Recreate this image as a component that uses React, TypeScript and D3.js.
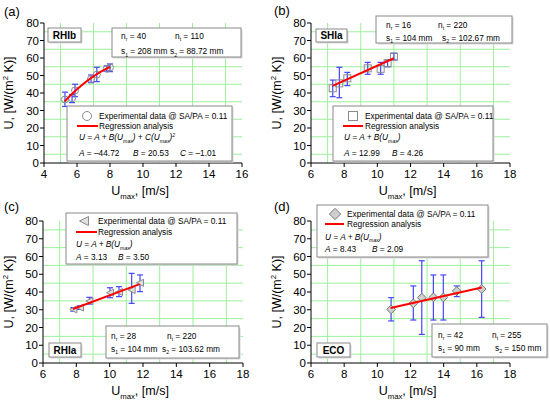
import React from "react";
import * as d3 from "d3";

// ---------- data ----------
const yTicks = [0, 10, 20, 30, 40, 50, 60, 70, 80];
const yGrid = [5, 15, 25, 35, 45, 55, 65, 75];
const xTicksA = [4, 6, 8, 10, 12, 14, 16];
const xGridA = [5, 7, 9, 11, 13, 15];
const xTicksB = [6, 8, 10, 12, 14, 16, 18];
const xGridB = [7, 9, 11, 13, 15, 17];

const aX = [5.27, 5.7, 5.88, 6.85, 7.2, 7.8, 8.0];
const aY = [36.3, 37.0, 41.5, 48.0, 50.5, 53.8, 54.6];
const aLo = [32.3, 34.5, 37.9, 45.9, 46.5, 52.5, 52.2];
const aHi = [40.5, 39.2, 45.0, 50.3, 54.7, 55.5, 56.6];
const aCoef = [-44.72, 20.53, -1.01];
const aFit = [5.25, 8.0];

const bX = [7.31, 7.71, 8.19, 9.42, 10.2, 10.62, 11.0];
const bY = [42.7, 45.5, 48.4, 54.1, 53.8, 57.0, 60.8];
const bLo = [37.9, 37.3, 44.2, 50.7, 50.7, 55.0, 58.9];
const bHi = [47.4, 54.7, 51.8, 57.5, 57.5, 58.9, 62.7];
const bCoef = [12.99, 4.26];
const bFit = [7.3, 11.0];

const cX = [7.82, 8.22, 8.78, 10.02, 10.56, 11.32, 11.82];
const cY = [30.2, 31.2, 34.9, 39.6, 40.0, 41.1, 45.2];
const cLo = [29.2, 30.2, 33.2, 36.8, 37.4, 33.6, 40.2];
const cHi = [31.2, 32.2, 37.0, 42.4, 43.0, 50.5, 49.6];
const cCoef = [3.13, 3.5];
const cFit = [7.8, 11.8];

const dX = [10.83, 12.17, 12.68, 13.38, 13.98, 14.79, 16.29];
const dY = [30.2, 33.6, 36.8, 37.0, 37.0, 40.6, 41.7];
const dLo = [23.7, 24.2, 16.1, 24.2, 24.2, 37.4, 25.7];
const dHi = [36.8, 43.4, 57.6, 49.6, 49.6, 43.4, 57.6];
const dCoef = [8.43, 2.09];
const dFit = [10.8, 16.3];

const panelLetters = ["(a)", "(b)", "(c)", "(d)"];
const tubeNames = ["RHIb", "SHIa", "RHIa", "ECO"];
const nr = ["40", "16", "28", "42"];
const nt = ["110", "220", "220", "255"];
const s1 = ["208 mm", "104 mm", "104 mm", "90 mm"];
const s2 = ["88.72 mm", "102.67 mm", "103.62 mm", "150 mm"];
const legendText = "Experimental data @ SA/PA = 0.11";
const regText = "Regression analysis";

// ---------- styles ----------
const FONT = "'Liberation Sans', Arial, Helvetica, sans-serif";
const GRID = "#9cf09c";
const BLUE = "#4646ff";
const RED = "#ff0000";
const MARK = "#8c8c8c";
const SMALL = 8.3;

type Part = { t: string; s?: "sub" | "sup"; i?: boolean };

function Rich({ x, y, parts, size, anchor = "start", transform }: any) {
  let off = 0;
  const spans = (parts as Part[]).map((p, k) => {
    let target = 0;
    if (p.s === "sub") target = size * 0.32;
    if (p.s === "sup") target = -size * 0.4;
    const dy = target - off;
    off = target;
    return (
      <tspan
        key={k}
        dy={dy}
        fontSize={p.s ? size * 0.62 : size}
        fontStyle={p.i ? "italic" : "normal"}
      >
        {p.t}
      </tspan>
    );
  });
  return (
    <text x={x} y={y} fontSize={size} textAnchor={anchor} fontFamily={FONT} fill="#000" transform={transform}>
      {spans}
    </text>
  );
}

function Box({ x, y, w, h }: any) {
  return (
    <g>
      <rect x={x + 1.5} y={y + 1.5} width={w} height={h} fill="#d8d8d8" />
      <rect x={x} y={y} width={w} height={h} fill="#fff" stroke="#8a8a8a" strokeWidth={1} />
    </g>
  );
}

function Marker({ kind, cx, cy, r = 4 }: any) {
  if (kind === "circle") return <circle cx={cx} cy={cy} r={r} fill="none" stroke={MARK} strokeWidth={1} />;
  if (kind === "square")
    return <rect x={cx - r} y={cy - r} width={2 * r} height={2 * r} fill="none" stroke={MARK} strokeWidth={1} />;
  if (kind === "triangle")
    return (
      <polygon
        points={`${cx - r},${cy} ${cx + r},${cy - r} ${cx + r},${cy + r}`}
        fill="#e0e0e0"
        stroke={MARK}
        strokeWidth={1}
      />
    );
  return (
    <polygon
      points={`${cx},${cy - r * 1.25} ${cx + r * 1.25},${cy} ${cx},${cy + r * 1.25} ${cx - r * 1.25},${cy}`}
      fill="#cfcfcf"
      stroke="#777"
      strokeWidth={1}
    />
  );
}

function Panel({ cfg, idx }: any) {
  const { L, T, W, H, xTicks, xGrid, xs, ys, lo, hi, coef, fit, marker } = cfg;
  const x = d3.scaleLinear().domain([xTicks[0], xTicks[xTicks.length - 1]]).range([L, L + W]);
  const y = d3.scaleLinear().domain([0, 80]).range([T + H, T]);
  const fitX = coef.length === 3 ? d3.range(fit[0], fit[1] + 0.001, 0.05) : fit;
  const f = (v: number) => coef.reduce((s: number, c: number, k: number) => s + c * Math.pow(v, k), 0);
  const line = d3
    .line<number>()
    .x((v) => x(v))
    .y((v) => y(f(v)));
  const lg = cfg.legend;
  const inf = cfg.info;
  const nm = cfg.name;
  return (
    <g>
      {/* grid */}
      {xGrid.map((g: number) => (
        <line key={"gx" + g} x1={x(g)} x2={x(g)} y1={T} y2={T + H} stroke={GRID} strokeWidth={1} />
      ))}
      {yGrid.map((g: number) => (
        <line key={"gy" + g} x1={L} x2={L + W} y1={y(g)} y2={y(g)} stroke={GRID} strokeWidth={1} />
      ))}
      {/* axes */}
      <line x1={L} x2={L} y1={T} y2={T + H} stroke="#000" strokeWidth={1} />
      <line x1={L} x2={L + W} y1={T + H} y2={T + H} stroke="#000" strokeWidth={1} />
      {yTicks.map((t) => (
        <g key={"yt" + t}>
          <line x1={L - 4} x2={L} y1={y(t)} y2={y(t)} stroke="#000" />
          <text x={L - 5} y={y(t) + 4} fontSize={11.5} textAnchor="end" fontFamily={FONT}>
            {t}
          </text>
        </g>
      ))}
      {xTicks.map((t: number) => (
        <g key={"xt" + t}>
          <line x1={x(t)} x2={x(t)} y1={T + H} y2={T + H + 4} stroke="#000" />
          <text x={x(t)} y={T + H + 15} fontSize={11.5} textAnchor="middle" fontFamily={FONT}>
            {t}
          </text>
        </g>
      ))}
      {/* axis titles */}
      <Rich
        x={0}
        y={0}
        size={12.5}
        anchor="middle"
        transform={`translate(${cfg.ytx},${T + H / 2}) rotate(-90)`}
        parts={[{ t: "U, [W/(m" }, { t: "2", s: "sup" }, { t: " K)]" }]}
      />
      <Rich
        x={L + W / 2 - 3}
        y={T + H + 32}
        size={12.5}
        anchor="middle"
        parts={[{ t: "U" }, { t: "max", s: "sub" }, { t: ", [m/s]" }]}
      />
      {/* panel letter */}
      <text x={cfg.px} y={cfg.py} fontSize={13} fontFamily={FONT}>
        {panelLetters[idx]}
      </text>
      {/* error bars */}
      {xs.map((v: number, k: number) => (
        <g key={"e" + k} stroke={BLUE} strokeWidth={1.2}>
          <line x1={x(v)} x2={x(v)} y1={y(lo[k])} y2={y(hi[k])} />
          <line x1={x(v) - 3} x2={x(v) + 3} y1={y(lo[k])} y2={y(lo[k])} />
          <line x1={x(v) - 3} x2={x(v) + 3} y1={y(hi[k])} y2={y(hi[k])} />
        </g>
      ))}
      {xs.map((v: number, k: number) => (
        <Marker key={"m" + k} kind={marker} cx={x(v)} cy={y(ys[k])} r={3.5} />
      ))}
      <path d={line(fitX) || ""} fill="none" stroke={RED} strokeWidth={2} />
      {/* name box */}
      <Box x={nm[0]} y={nm[1]} w={nm[2]} h={nm[3]} />
      <text x={nm[0] + nm[2] / 2} y={nm[1] + nm[3] / 2 + 3.6} fontSize={10} fontWeight="bold" textAnchor="middle" fontFamily={FONT}>
        {tubeNames[idx]}
      </text>
      {/* info box */}
      <Box x={inf[0]} y={inf[1]} w={inf[2]} h={inf[3]} />
      <Rich x={inf[4]} y={inf[6]} size={SMALL} parts={[{ t: "n" }, { t: "r", s: "sub" }, { t: " = " + nr[idx] }]} />
      <Rich x={inf[5]} y={inf[6]} size={SMALL} parts={[{ t: "n" }, { t: "t", s: "sub" }, { t: " = " + nt[idx] }]} />
      <Rich x={inf[4]} y={inf[7]} size={SMALL} parts={[{ t: "s" }, { t: "1", s: "sub" }, { t: " = " + s1[idx] }]} />
      <Rich x={inf[8]} y={inf[7]} size={SMALL} parts={[{ t: "s" }, { t: "2", s: "sub" }, { t: " = " + s2[idx] }]} />
      {/* legend */}
      <Box x={lg.x} y={lg.y} w={lg.w} h={lg.h} />
      <Marker kind={marker} cx={lg.mx} cy={lg.r1} r={4.5} />
      <text x={lg.tx} y={lg.r1 + 3} fontSize={SMALL} fontFamily={FONT}>
        {legendText}
      </text>
      <line x1={lg.l1} x2={lg.l2} y1={lg.r2} y2={lg.r2} stroke={RED} strokeWidth={2} />
      <text x={lg.tx} y={lg.r2 + 3} fontSize={SMALL} fontFamily={FONT}>
        {regText}
      </text>
      {coef.length === 3 ? (
        <Rich
          x={lg.fx}
          y={lg.r3}
          size={SMALL}
          parts={[
            { t: "U = A + B(U", i: true },
            { t: "max", s: "sub", i: true },
            { t: ") + C(U", i: true },
            { t: "max", s: "sub", i: true },
            { t: ")", i: true },
            { t: "2", s: "sup", i: true },
          ]}
        />
      ) : (
        <Rich
          x={lg.fx}
          y={lg.r3}
          size={SMALL}
          parts={[
            { t: "U = A + B(U", i: true },
            { t: "max", s: "sub", i: true },
            { t: ")", i: true },
          ]}
        />
      )}
      {coef.map((c: number, k: number) => (
        <Rich
          key={"c" + k}
          x={lg.cx[k]}
          y={lg.r4}
          size={SMALL}
          parts={[{ t: ["A", "B", "C"][k], i: true }, { t: " = " + (c < 0 ? "\u2013" : "") + Math.abs(c).toFixed(2) }]}
        />
      ))}
    </g>
  );
}

const panels = [
  {
    L: 44, T: 23, W: 198, H: 140, xTicks: xTicksA, xGrid: xGridA,
    xs: aX, ys: aY, lo: aLo, hi: aHi, coef: aCoef, fit: aFit, marker: "circle",
    ytx: 13, px: 4, py: 16,
    name: [48, 28, 33, 14],
    info: [112, 28, 129, 29, 121, 175, 38.5, 54, 170],
    legend: { x: 67, y: 106, w: 165, h: 55, mx: 87, tx: 99, r1: 116, r2: 126, l1: 77, l2: 98, fx: 79, r3: 140, r4: 156, cx: [79, 133, 180] },
  },
  {
    L: 311, T: 23, W: 199, H: 140, xTicks: xTicksB, xGrid: xGridB,
    xs: bX, ys: bY, lo: bLo, hi: bHi, coef: bCoef, fit: bFit, marker: "square",
    ytx: 281, px: 274, py: 15,
    name: [316, 29, 31, 13],
    info: [376, 16, 136, 27, 386, 438, 27.5, 40.5, 442],
    legend: { x: 333, y: 106, w: 160, h: 55, mx: 353, tx: 365, r1: 116, r2: 126, l1: 343, l2: 363, fx: 344, r3: 140, r4: 156, cx: [344, 392] },
  },
  {
    L: 43, T: 221, W: 200, H: 142, xTicks: xTicksB, xGrid: xGridB,
    xs: cX, ys: cY, lo: cLo, hi: cHi, coef: cCoef, fit: cFit, marker: "triangle",
    ytx: 13, px: 4, py: 211,
    name: [49, 343, 32, 14],
    info: [106, 326, 133, 32, 111, 167, 338.5, 351.5, 162],
    legend: { x: 66, y: 213, w: 171, h: 51, mx: 84, tx: 98, r1: 221, r2: 232, l1: 76, l2: 97, fx: 76, r3: 247, r4: 260, cx: [76, 118] },
  },
  {
    L: 311, T: 221, W: 199, H: 142, xTicks: xTicksB, xGrid: xGridB,
    xs: dX, ys: dY, lo: dLo, hi: dHi, coef: dCoef, fit: dFit, marker: "diamond",
    ytx: 281, px: 274, py: 211,
    name: [317, 343, 33, 14],
    info: [432, 324, 115, 33, 438, 492, 337.5, 350.5, 495],
    legend: { x: 317, y: 205, w: 171, h: 52, mx: 335, tx: 347, r1: 214, r2: 224, l1: 325, l2: 344, fx: 325, r3: 239.5, r4: 251.5, cx: [325, 372] },
  },
];

export default function App() {
  return (
    <svg
      width={550}
      height={402}
      viewBox="0 0 550 402"
      style={{ position: "absolute", left: 0, top: 0, background: "#fff" }}
    >
      <rect width={550} height={402} fill="#fff" />
      {panels.map((p, i) => (
        <Panel key={i} cfg={p} idx={i} />
      ))}
    </svg>
  );
}
